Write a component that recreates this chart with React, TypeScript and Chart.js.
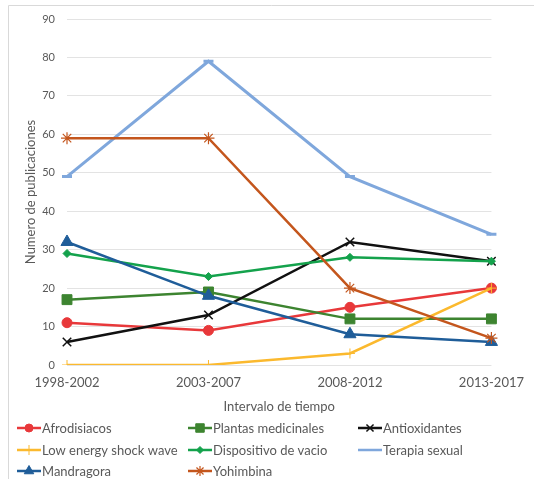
import React, { useEffect, useRef } from "react";
import { Chart, registerables } from "chart.js";
import { drawPoint } from "chart.js/helpers";

Chart.register(...registerables);

const categories = ["1998-2002", "2003-2007", "2008-2012", "2013-2017"];
const seriesNames = [
  "Afrodisiacos",
  "Plantas medicinales",
  "Antioxidantes",
  "Low energy shock wave",
  "Dispositivo de vacio",
  "Terapia sexual",
  "Mandragora",
  "Yohimbina",
];
const afrodisiacos = [11, 9, 15, 20];
const plantasMedicinales = [17, 19, 12, 12];
const antioxidantes = [6, 13, 32, 27];
const lowEnergy = [0, 0, 3, 20];
const dispositivoVacio = [29, 23, 28, 27];
const terapiaSexual = [49, 79, 49, 34];
const mandragora = [32, 18, 8, 6];
const yohimbina = [59, 59, 20, 7];
const yTicks = [0, 10, 20, 30, 40, 50, 60, 70, 80, 90];

const FONT = "Lato, 'Open Sans', sans-serif";
const TEXT = "#595959";

const styles = [
  { color: "#E8383A", pointStyle: "circle", radius: 5, bw: 1, lr: 4 },
  { color: "#3D8430", pointStyle: "rect", radius: 7, bw: 1, lr: 6 },
  { color: "#111111", pointStyle: "crossRot", radius: 6, bw: 1.5, lr: 5 },
  { color: "#FBB92E", pointStyle: "cross", radius: 5, bw: 1, lr: 5 },
  { color: "#14A24C", pointStyle: "rectRot", radius: 4, bw: 1, lr: 3.5 },
  { color: "#7FA7DC", pointStyle: "line", radius: 5, bw: 3, lr: 0 },
  { color: "#1F5D99", pointStyle: "triangle", radius: 7, bw: 1, lr: 5.5 },
  { color: "#C4561D", pointStyle: "star", radius: 6, bw: 1.2, lr: 5 },
];
const values = [
  afrodisiacos,
  plantasMedicinales,
  antioxidantes,
  lowEnergy,
  dispositivoVacio,
  terapiaSexual,
  mandragora,
  yohimbina,
];

const legendPlugin = {
  id: "gridLegend",
  beforeDraw(chart: any) {
    const ctx = chart.ctx;
    ctx.save();
    ctx.strokeStyle = "#D9D9D9";
    ctx.lineWidth = 1;
    ctx.beginPath();
    ctx.moveTo(8.5, 600);
    ctx.lineTo(8.5, 5.5);
    ctx.lineTo(600, 5.5);
    ctx.stroke();
    ctx.restore();
  },
  afterDraw(chart: any) {
    const ctx = chart.ctx;
    const cols = [17, 188, 358];
    const rows = [428, 450, 471];
    ctx.save();
    chart.data.datasets.forEach((ds: any, i: number) => {
      const x0 = cols[i % 3];
      const y = rows[Math.floor(i / 3)];
      const st = styles[i];
      ctx.strokeStyle = st.color;
      ctx.lineWidth = 2.5;
      ctx.beginPath();
      ctx.moveTo(x0, y);
      ctx.lineTo(x0 + 24, y);
      ctx.stroke();
      if (st.lr > 0) {
        ctx.fillStyle = st.color;
        ctx.strokeStyle = st.color;
        ctx.lineWidth = st.bw;
        drawPoint(ctx, { pointStyle: st.pointStyle, radius: st.lr, borderWidth: st.bw, rotation: 0 } as any, x0 + 12, y);
      }
      ctx.fillStyle = TEXT;
      ctx.font = `13px ${FONT}`;
      ctx.textBaseline = "middle";
      ctx.textAlign = "left";
      ctx.fillText(ds.label, x0 + 25, y + 1);
    });
    ctx.restore();
  },
};

export default function App() {
  const ref = useRef<HTMLCanvasElement>(null);
  useEffect(() => {
    if (!ref.current) return;
    const chart = new Chart(ref.current, {
      type: "line",
      data: {
        labels: categories,
        datasets: seriesNames.map((name, i) => ({
          label: name,
          data: values[i],
          borderColor: styles[i].color,
          backgroundColor: styles[i].color,
          borderWidth: i === 5 ? 3 : 2.5,
          pointStyle: styles[i].pointStyle as any,
          pointRadius: styles[i].radius,
          pointHoverRadius: styles[i].radius,
          pointBorderWidth: styles[i].bw,
          pointBorderColor: styles[i].color,
          pointBackgroundColor: styles[i].color,
          tension: 0,
          order: -i,
        })),
      },
      options: {
        animation: false,
        responsive: false,
        layout: { padding: { left: 19, right: 34, top: 19, bottom: 64 } },
        plugins: {
          legend: { display: false },
          tooltip: { enabled: false },
        },
        scales: {
          x: {
            offset: false,
            grid: { display: false, drawTicks: false },
            border: { display: false },
            ticks: { color: TEXT, font: { family: FONT, size: 13 }, padding: 10, maxRotation: 0 },
            title: {
              display: true,
              text: "Intervalo de tiempo",
              color: TEXT,
              font: { family: FONT, size: 13 },
              padding: { top: 5, bottom: 0 },
            },
            afterFit: (s: any) => {
              s.height = 50;
            },
          },
          y: {
            min: 0,
            max: 90,
            afterBuildTicks: (s: any) => {
              s.ticks = yTicks.map((v) => ({ value: v }));
            },
            grid: { color: "#E3E3E3", lineWidth: 1, drawTicks: false },
            border: { display: false },
            ticks: { color: TEXT, font: { family: FONT, size: 11 }, padding: 12 },
            title: {
              display: true,
              text: "Numero de publicaciones",
              color: TEXT,
              font: { family: FONT, size: 13 },
              padding: { top: 4, bottom: 0 },
            },
            afterFit: (s: any) => {
              s.width = 48;
            },
          },
        },
      },
      plugins: [legendPlugin],
    });
    return () => chart.destroy();
  }, []);
  return (
    <div style={{ position: "absolute", left: 0, top: 0, width: 534, height: 479, background: "#fff" }}>
      <canvas ref={ref} width={534} height={479} style={{ width: 534, height: 479, display: "block" }} />
    </div>
  );
}
